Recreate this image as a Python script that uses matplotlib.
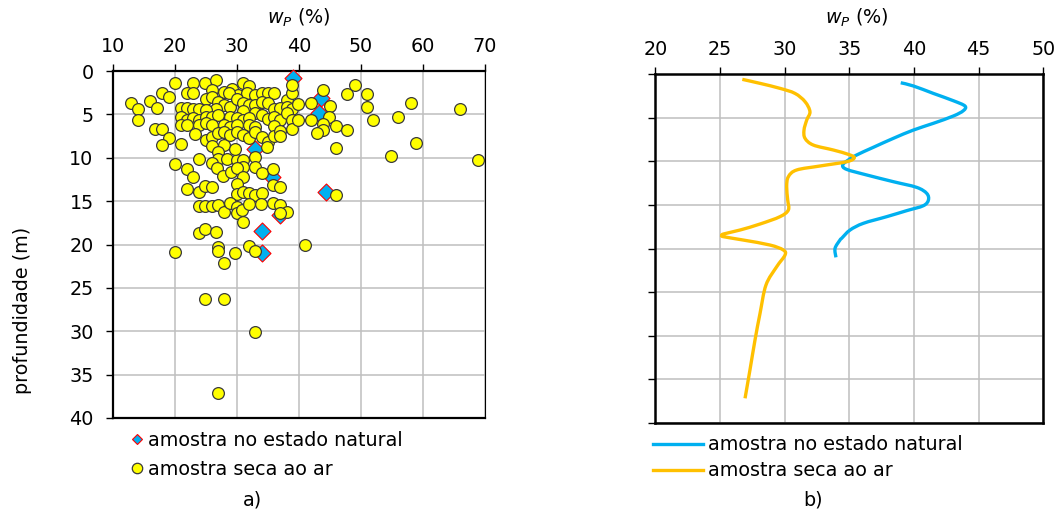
import matplotlib
matplotlib.use("Agg")
import matplotlib.pyplot as plt
from matplotlib.lines import Line2D
from matplotlib.path import Path
from matplotlib.patches import PathPatch

plt.rcParams["font.family"] = ["DejaVu Sans"]
plt.rcParams["mathtext.fontset"] = "dejavusans"

# a) plastic limit of every sample vs depth
dry_wp = [
    19.95, 22.96, 24.89, 26.67, 31.02, 31.93,
    17.90, 18.98, 21.88, 22.96, 26.02, 27.90, 29.25, 30.21, 28.71, 31.56, 32.90,
    33.98, 35.05, 35.97, 38.01, 38.92, 38.92,
    12.90, 13.98, 15.97, 17.04, 21.02, 21.99, 22.96, 23.92, 25.00, 26.02, 26.99,
    27.90, 28.87, 29.95, 31.02, 31.93, 32.90, 33.98, 35.05, 35.97, 36.93, 38.01,
    38.92, 26.56, 25.00, 31.02, 32.90,
    13.98, 20.91, 21.99, 22.96, 23.92, 25.00, 26.02, 26.99, 28.87, 29.95, 31.02,
    31.93, 33.98, 35.05, 35.97, 36.93, 38.01, 38.92, 20.91, 21.99, 23.92, 25.00,
    26.02, 27.90, 28.87, 29.95, 31.93, 32.90, 35.97, 38.92,
    16.83, 17.90, 18.98, 17.90, 20.91, 23.22, 25.00, 26.02, 26.02, 26.99, 27.90,
    27.90, 28.87, 29.95, 31.02, 31.93, 32.90, 33.98, 35.05, 35.97, 36.93, 36.93,
    34.89,
    19.95, 23.92, 26.99, 26.99, 28.33, 29.95, 31.02, 32.90, 29.68,
    21.93, 22.96, 26.02, 26.72, 27.69, 29.03, 31.02, 29.95, 31.02, 32.90, 33.98,
    35.86,
    21.93, 23.92, 24.84, 25.91, 29.95, 29.95, 31.02, 31.93, 32.90, 34.08, 35.86,
    36.93,
    23.92, 24.89, 25.91, 26.99, 27.90, 28.87, 29.95, 29.95, 30.75, 31.93, 33.92,
    35.86, 36.93, 38.01, 36.93, 30.91,
    23.92, 24.89, 26.61,
    43.9, 39.9, 41.9, 45.0, 47.8, 49.0, 50.9, 50.9, 58.0, 65.9, 51.9, 55.9, 44.9,
    45.9, 47.8, 41.9, 43.9, 43.9, 42.9, 39.9, 45.9, 58.9, 54.9, 68.8, 45.9,
    19.95, 26.9, 26.9, 27.9, 29.7, 31.9, 32.9, 40.9, 24.9, 27.9, 32.9, 27.0,
]
dry_depth = [
    1.42, 1.42, 1.42, 1.04, 1.34, 1.73,
    2.57, 3.03, 2.57, 2.57, 2.19, 2.38, 2.11, 2.77, 2.57, 2.57, 2.77,
    2.57, 2.57, 2.57, 3.34, 2.50, 1.61,
    3.65, 4.42, 3.46, 4.22, 4.30, 4.30, 4.42, 4.42, 3.26, 3.03, 3.53,
    3.92, 4.11, 3.26, 3.65, 3.92, 3.92, 3.53, 3.65, 4.42, 4.30, 4.11,
    4.42, 4.42, 4.49, 4.57, 4.80,
    5.65, 5.26, 5.65, 5.45, 5.65, 5.26, 5.34, 5.07, 5.26, 5.45, 5.65,
    5.45, 5.07, 5.57, 5.34, 5.65, 4.88, 5.65, 6.22, 6.22, 6.26, 6.03,
    6.22, 6.22, 6.41, 6.22, 6.22, 6.41, 6.34, 6.68,
    6.68, 6.68, 7.76, 8.56, 8.41, 7.26, 7.95, 7.64, 8.64, 7.10, 6.99,
    8.53, 7.37, 6.99, 7.37, 7.76, 6.99, 7.56, 8.14, 7.49, 6.87, 7.49,
    8.72,
    10.71, 10.18, 9.29, 10.18, 10.18, 10.25, 10.25, 9.87, 9.02,
    11.25, 12.25, 10.64, 11.21, 12.10, 11.60, 11.02, 11.21, 12.25, 11.02, 11.79,
    11.33,
    13.59, 13.94, 13.21, 13.33, 13.02, 14.21, 13.90, 14.09, 14.29, 14.02, 13.13,
    13.40,
    15.51, 15.51, 15.55, 15.44, 16.28, 15.25, 15.63, 16.40, 16.01, 15.32, 15.32,
    15.25, 15.44, 16.20, 16.40, 17.36,
    18.70, 18.20, 18.51,
    2.2, 3.8, 3.7, 4.0, 2.65, 1.65, 2.65, 4.2, 3.65, 4.4, 5.7, 5.3, 5.3,
    6.3, 6.8, 5.7, 6.1, 6.8, 7.2, 5.7, 8.9, 8.3, 9.8, 10.3, 14.3,
    20.85, 20.3, 20.8, 22.1, 21.0, 20.2, 20.7, 20.1, 26.3, 26.3, 30.1, 37.1,
]
nat_wp = [39.1, 43.5, 43.3, 32.9, 35.6, 36.9, 44.3, 34.0, 34.1]
nat_depth = [0.85, 3.15, 4.8, 9.0, 12.2, 16.6, 14.0, 18.5, 21.0]

# b) trend profiles
nat_trend_wp = [
    38.98, 39.96, 41.50, 43.05, 43.95, 43.82, 43.05, 41.50, 39.96, 38.41, 36.86,
    35.57, 34.93, 34.49, 34.80, 36.35, 38.41, 40.21, 40.99, 41.12, 40.73, 39.44,
    37.89, 36.09, 35.06, 34.41, 34.28, 33.90, 33.97,
]
nat_trend_depth = [
    1.00, 1.37, 2.22, 3.06, 3.67, 4.20, 4.81, 5.65, 6.42, 7.37, 8.40,
    9.28, 9.85, 10.43, 10.93, 11.57, 12.34, 12.99, 13.68, 14.44, 15.09, 15.66,
    16.35, 17.11, 17.88, 18.83, 19.03, 19.98, 21.01,
]
dry_trend_wp = [
    26.73, 28.10, 29.64, 30.80, 31.58, 31.96, 31.71, 31.50, 31.58, 32.22, 33.77,
    34.93, 35.39, 34.80, 32.74, 30.93, 30.29, 30.16, 30.24, 30.29, 29.64, 28.10,
    26.55, 25.26, 25.20, 25.26, 26.81, 28.87, 29.90, 30.03, 29.39, 28.56, 28.10,
    27.71, 27.32, 26.94,
]
dry_trend_depth = [
    0.61, 1.07, 1.64, 2.22, 3.17, 4.32, 5.27, 6.42, 7.37, 8.14, 8.71,
    9.21, 9.59, 10.05, 10.54, 11.00, 11.77, 12.91, 14.44, 15.58, 16.35, 17.19,
    17.88, 18.34, 18.50, 18.64, 19.03, 19.60, 20.17, 20.75, 22.08, 24.18, 27.43,
    30.49, 33.92, 37.17,
]

depth_ticks = list(range(0, 41, 5))
wp_ticks_a = list(range(10, 71, 10))
wp_ticks_b = list(range(20, 51, 5))

BLUE = "#00B0F0"
ORANGE = "#FFC000"
YELLOW = "#FFFF00"
GRID = "#BFBFBF"
FS = 13.75


def smooth_path(xs, ys, tension=1 / 6):
    """Cubic Bezier path through the points (Catmull-Rom style), like a smoothed Excel line."""
    pts = list(zip(xs, ys))
    verts = [pts[0]]
    codes = [Path.MOVETO]
    n = len(pts)
    for i in range(n - 1):
        p0 = pts[i - 1] if i > 0 else pts[i]
        p1 = pts[i]
        p2 = pts[i + 1]
        p3 = pts[i + 2] if i + 2 < n else pts[i + 1]
        c1 = (p1[0] + (p2[0] - p0[0]) * tension, p1[1] + (p2[1] - p0[1]) * tension)
        c2 = (p2[0] - (p3[0] - p1[0]) * tension, p2[1] - (p3[1] - p1[1]) * tension)
        verts += [c1, c2, p2]
        codes += [Path.CURVE4] * 3
    return Path(verts, codes)


fig = plt.figure(figsize=(10.6, 5.12), dpi=100)
ax_a = fig.add_axes((0.1066, 0.1836, 0.3509, 0.6777))
ax_b = fig.add_axes((0.6182, 0.1738, 0.3660, 0.6816))


def style_axes(ax, xlim, xticks, label_x, label_y):
    ax.set_xlim(*xlim)
    ax.set_ylim(40, 0)
    ax.set_xticks(xticks)
    ax.set_yticks(depth_ticks)
    ax.xaxis.tick_top()
    ax.xaxis.set_label_position("top")
    ax.grid(True, color=GRID, lw=1.1)
    ax.set_axisbelow(True)
    ax.tick_params(axis="both", direction="out", length=5, width=1,
                   labelsize=FS, colors="black")
    ax.tick_params(axis="x", pad=6)
    ax.tick_params(axis="y", pad=9)
    ax.set_xlabel(r"$w_P$ (%)", fontsize=FS)
    ax.xaxis.set_label_coords(label_x, label_y)


style_axes(ax_a, (10, 70), wp_ticks_a, 0.5, 1.137)
style_axes(ax_b, (20, 50), wp_ticks_b, 0.52, 1.143)
ax_b.tick_params(axis="y", labelleft=False)

ax_a.set_ylabel("profundidade (m)", fontsize=FS)
ax_a.yaxis.set_label_coords(-0.218, 0.31)

for side in ("left", "top", "bottom"):
    ax_a.spines[side].set_linewidth(1.6)
ax_a.spines["right"].set_linewidth(0.8)
for side in ("left", "top", "bottom", "right"):
    ax_b.spines[side].set_linewidth(1.8)

ax_a.scatter(nat_wp, nat_depth, marker="D", s=75, c=BLUE, edgecolors="red",
             linewidths=0.8, zorder=3, clip_on=False)
ax_a.scatter(dry_wp, dry_depth, marker="o", s=72, c=YELLOW, edgecolors="#3a3a3a",
             linewidths=0.9, zorder=4, clip_on=False)

for xs, ys, color in ((nat_trend_wp, nat_trend_depth, BLUE),
                      (dry_trend_wp, dry_trend_depth, ORANGE)):
    ax_b.add_patch(PathPatch(smooth_path(xs, ys), fill=False, edgecolor=color,
                             lw=2.4, joinstyle="round", zorder=3))

handles_a = [
    Line2D([], [], marker="D", ls="none", ms=5.5, mfc=BLUE, mec="red", mew=0.8),
    Line2D([], [], marker="o", ls="none", ms=7.5, mfc=YELLOW, mec="#3a3a3a", mew=0.9),
]
fig.legend(handles_a, ["amostra no estado natural", "amostra seca ao ar"],
           loc="upper left", bbox_to_anchor=(0.1236, 0.158), frameon=False,
           fontsize=FS, borderpad=0, borderaxespad=0, handlelength=0.63,
           handletextpad=0.26, labelspacing=0.5)

handles_b = [Line2D([], [], color=BLUE, lw=2.4), Line2D([], [], color=ORANGE, lw=2.4)]
fig.legend(handles_b, ["amostra no estado natural", "amostra seca ao ar"],
           loc="upper left", bbox_to_anchor=(0.616, 0.150), frameon=False,
           fontsize=FS, borderpad=0, borderaxespad=0, handlelength=2.6,
           handletextpad=0.26, labelspacing=0.38)

fig.text(253 / 1060, 1 - 500 / 512, "a)", fontsize=FS, ha="center", va="center")
fig.text(813 / 1060, 1 - 500 / 512, "b)", fontsize=FS, ha="center", va="center")

fig.savefig("out.png", dpi=100)
